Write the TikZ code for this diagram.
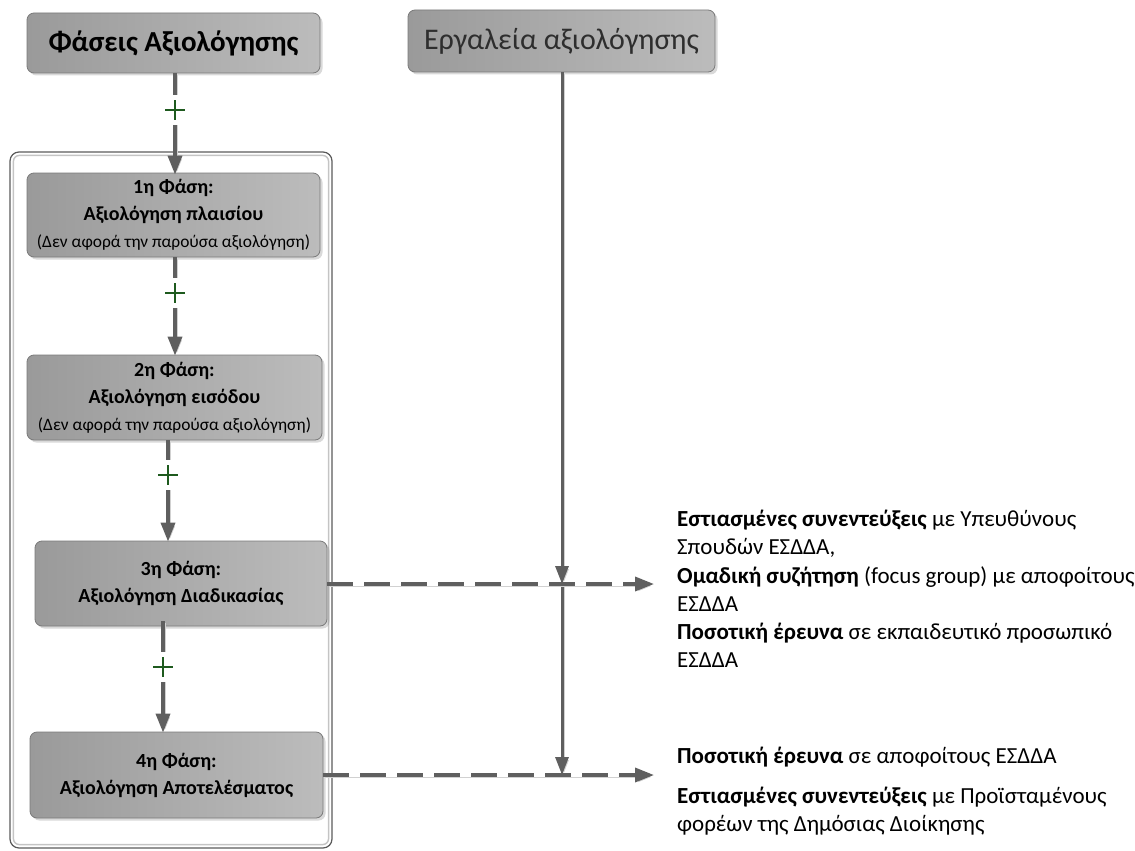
\documentclass[tikz,border=0pt]{standalone}
\usepackage{fontspec}
\setmainfont{Carlito}
\usetikzlibrary{arrows.meta,shadows,calc}
\definecolor{boxL}{HTML}{9A9A9A}
\definecolor{boxR}{HTML}{BCBCBC}
\definecolor{boxBorder}{HTML}{7A7A7A}
\definecolor{lineC}{HTML}{5F5F5F}
\definecolor{plusC}{HTML}{1E5A1E}
\definecolor{frameC}{HTML}{5A5A5A}
\definecolor{frameIn}{HTML}{C4C4C4}
\definecolor{toolText}{HTML}{2E2E2E}
\begin{document}
\begin{tikzpicture}[x=1pt,y=-1pt,
  graybox/.style={draw=boxBorder, line width=0.8pt, rounded corners=7pt,
    left color=boxL, right color=boxR, align=center, inner sep=0pt,
    drop shadow={shadow xshift=2.5pt, shadow yshift=-2.5pt, opacity=0.3}},
  titlebox/.style={graybox, font=\fontsize{29}{32}\selectfont},
  phasebox/.style={graybox, font=\fontsize{20}{27}\selectfont\bfseries},
  lineshadow/.style={preaction={draw=black!18, transform canvas={xshift=1.8pt,yshift=-1.8pt}}},
  flowarrow/.style={lineshadow, draw=lineC, line width=3.5pt, dash pattern=on 26pt off 11pt,
    -{Triangle[length=19pt,width=14pt]}},
  phasearrow/.style={lineshadow, draw=lineC, line width=3.5pt,
    -{Triangle[length=19pt,width=14pt]}},
  toolline/.style={lineshadow, draw=lineC, line width=3pt, -{Triangle[length=18pt,width=13pt]}},
  plusmark/.style={minimum width=22pt, minimum height=30pt, inner sep=0pt, fill=white,
    path picture={\draw[plusC, line width=1.4pt, solid]
      ($(path picture bounding box.center)+(-10,0)$) -- ++(20,0)
      ($(path picture bounding box.center)+(0,-10)$) -- ++(0,20);}},
  infotext/.style={align=left, inner sep=0pt, font=\fontsize{23}{28.2}\selectfont}
]
\useasboundingbox (0,0) rectangle (1135,851);

% container
\node[draw=frameC, line width=1.2pt, rounded corners=9pt,
  minimum width=322pt, minimum height=696pt] (frame) at (171,500) {};
\draw[frameIn, line width=1.5pt, rounded corners=6pt]
  ($(frame.north west)+(4,4)$) rectangle ($(frame.south east)+(-4,-4)$);

% titles
\node[titlebox, minimum width=293pt, minimum height=60pt] (t1) at (173.5,43)
  {\bfseries Φάσεις Αξιολόγησης};
\node[titlebox, minimum width=307pt, minimum height=62pt, text=toolText,
  font=\fontsize{30}{32}\selectfont] (t2) at (561.5,41)
  {Εργαλεία αξιολόγησης};

% phases
\node[phasebox, minimum width=293pt, minimum height=84pt] (b1) at (173.5,215)
  {1η Φάση:\\ Αξιολόγηση πλαισίου\\ {\fontsize{17.4}{26}\selectfont\mdseries (Δεν αφορά την παρούσα αξιολόγηση)}};
\node[phasebox, minimum width=295pt, minimum height=85pt] (b2) at (174.5,397.5)
  {2η Φάση:\\ Αξιολόγηση εισόδου\\ {\fontsize{17.4}{26}\selectfont\mdseries (Δεν αφορά την παρούσα αξιολόγηση)}};
\node[phasebox, minimum width=292pt, minimum height=85pt] (b3) at (181,583.5)
  {3η Φάση:\\ Αξιολόγηση Διαδικασίας};
\node[phasebox, minimum width=293pt, minimum height=86pt] (b4) at (176.5,775)
  {4η Φάση:\\ Αξιολόγηση Αποτελέσματος};

% column helpers
\coordinate (c1) at (175,0);
\coordinate (c2) at (168,0);
\coordinate (c3) at (163,0);
\coordinate (ct) at (562,0);
\coordinate (j3) at (562,584);
\coordinate (j4) at (562,775);
\coordinate (e3) at (654,584);
\coordinate (e4) at (654,775);

% phase connectors
\draw[phasearrow] (t1.south -| c1) -- ([yshift=-2pt]b1.north -| c1);
\draw[phasearrow] (b1.south -| c1) -- ([yshift=-1pt]b2.north -| c1);
\draw[phasearrow] (b2.south -| c2) -- ([yshift=-1pt]b3.north -| c2);
\draw[phasearrow] ([yshift=5pt]b3.south -| c3) -- ([yshift=-1pt]b4.north -| c3);

\node[plusmark] (p1) at (175,110) {};
\node[plusmark] (p2) at (175,293) {};
\node[plusmark] (p3) at (168,475) {};
\node[plusmark] (p4) at (163,667) {};

% tools line
\draw[toolline] (t2.south -| ct) -- (j3);
\draw[toolline] (j3) -- (j4);

% horizontal dashed arrows
\draw[flowarrow] (b3.east |- j3) -- (e3);
\draw[flowarrow] (b4.east |- j4) -- (e4);

% info texts
\node[infotext, anchor=north west] (i3) at (677,510)
  {\textbf{Εστιασμένες συνεντεύξεις} με Υπευθύνους\\
   Σπουδών ΕΣΔΔΑ,\\
   \textbf{Ομαδική συζήτηση} (focus group) με αποφοίτους\\
   ΕΣΔΔΑ\\
   \textbf{Ποσοτική έρευνα} σε εκπαιδευτικό προσωπικό\\
   ΕΣΔΔΑ};
\node[infotext, anchor=north west] (i4) at (677,747)
  {\textbf{Ποσοτική έρευνα} σε αποφοίτους ΕΣΔΔΑ\\[11.5pt]
   \textbf{Εστιασμένες συνεντεύξεις} με Προϊσταμένους\\
   φορέων της Δημόσιας Διοίκησης};
\end{tikzpicture}
\end{document}
